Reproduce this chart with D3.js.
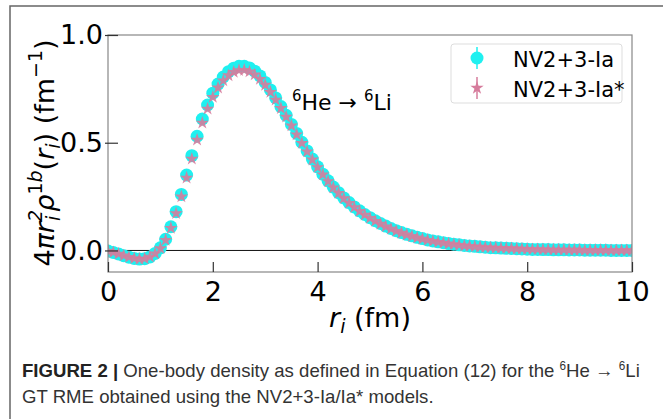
<!DOCTYPE html>
<html lang="en">
<head>
<meta charset="UTF-8">
<title>One-body density 6He to 6Li</title>
<script src="https://cdn.jsdelivr.net/npm/d3@7"></script>
<style>
    body { margin: 0; background: #fff; }
    text { font-family: "DejaVu Sans", sans-serif; }
    .caption { font-family: "Liberation Sans", sans-serif; }
</style>
</head>
<body>
<svg width="663" height="419"></svg>
<script>

// radial grid r_i (fm)
var radius = [0.0,0.1,0.2,0.3,0.4,0.5,0.6,0.7,0.8,0.9,
    1.0,1.1,1.2,1.3,1.4,1.5,1.6,1.7,1.8,1.9,
    2.0,2.1,2.2,2.3,2.4,2.5,2.6,2.7,2.8,2.9,
    3.0,3.1,3.2,3.3,3.4,3.5,3.6,3.7,3.8,3.9,
    4.0,4.1,4.2,4.3,4.4,4.5,4.6,4.7,4.8,4.9,
    5.0,5.1,5.2,5.3,5.4,5.5,5.6,5.7,5.8,5.9,
    6.0,6.1,6.2,6.3,6.4,6.5,6.6,6.7,6.8,6.9,
    7.0,7.1,7.2,7.3,7.4,7.5,7.6,7.7,7.8,7.9,
    8.0,8.1,8.2,8.3,8.4,8.5,8.6,8.7,8.8,8.9,
    9.0,9.1,9.2,9.3,9.4,9.5,9.6,9.7,9.8,9.9,
    10.0];

// NV2+3-Ia
var densIa = [-0.003,-0.009,-0.016,-0.024,-0.031,-0.037,-0.040,-0.038,-0.030,-0.014,
    0.012,0.052,0.110,0.180,0.260,0.350,0.440,0.530,0.610,0.675,
    0.730,0.772,0.805,0.830,0.846,0.855,0.855,0.847,0.832,0.810,
    0.780,0.745,0.708,0.668,0.627,0.585,0.543,0.502,0.462,0.424,
    0.388,0.354,0.323,0.294,0.268,0.244,0.222,0.202,0.184,0.167,
    0.152,0.138,0.125,0.113,0.102,0.092,0.083,0.075,0.068,0.061,
    0.055,0.049,0.044,0.040,0.036,0.032,0.029,0.026,0.023,0.021,
    0.019,0.017,0.015,0.013,0.012,0.011,0.010,0.009,0.008,0.007,
    0.006,0.005,0.005,0.004,0.004,0.003,0.003,0.003,0.002,0.002,
    0.002,0.001,0.001,0.001,0.001,0.001,0.000,0.000,0.000,0.000,
    0.000];

// NV2+3-Ia*
var densIaStar = [-0.003,-0.009,-0.016,-0.024,-0.031,-0.037,-0.040,-0.038,-0.030,-0.015,
    0.010,0.048,0.104,0.172,0.250,0.337,0.425,0.513,0.592,0.657,
    0.712,0.755,0.788,0.812,0.828,0.836,0.837,0.830,0.816,0.795,
    0.768,0.735,0.699,0.660,0.620,0.579,0.538,0.498,0.459,0.421,
    0.386,0.352,0.321,0.292,0.266,0.242,0.220,0.200,0.182,0.165,
    0.150,0.136,0.123,0.111,0.100,0.090,0.081,0.073,0.066,0.059,
    0.053,0.048,0.043,0.039,0.035,0.031,0.028,0.025,0.022,0.020,
    0.018,0.016,0.014,0.013,0.012,0.011,0.010,0.009,0.008,0.007,
    0.006,0.005,0.005,0.004,0.004,0.003,0.003,0.003,0.002,0.002,
    0.002,0.001,0.001,0.001,0.001,0.001,0.000,0.000,0.000,0.000,
    0.000];

var xTicks = [0, 2, 4, 6, 8, 10];
var yTicks = [0.0, 0.5, 1.0];
var seriesNames = ["NV2+3-Ia", "NV2+3-Ia*"];

var cyan = "#1ff0f0",
    pink = "#d67c9c";

var svg = d3.select("svg");

// outer figure frame
svg.append("path")
    .attr("d", "M10,430 L10,6 L670,6")
    .attr("fill", "none")
    .attr("stroke", "#666")
    .attr("stroke-width", 1.5);

var pLeft = 108, pRight = 632, pTop = 35, pBottom = 272;

var x = d3.scaleLinear().domain([0, 10]).range([pLeft, pRight]);
var y = d3.scaleLinear().domain([-0.1, 1.0]).range([pBottom, pTop]);

svg.append("clipPath").attr("id", "plotclip")
    .append("rect")
    .attr("x", pLeft).attr("y", pTop)
    .attr("width", pRight - pLeft).attr("height", pBottom - pTop);

// zero line
svg.append("line")
    .attr("x1", pLeft).attr("x2", pRight)
    .attr("y1", y(0)).attr("y2", y(0))
    .attr("stroke", "#111")
    .attr("stroke-width", 1);

var pts = svg.append("g").attr("clip-path", "url(#plotclip)");

pts.selectAll("circle")
    .data(radius)
    .enter().append("circle")
    .attr("cx", function(d) { return x(d); })
    .attr("cy", function(d, i) { return y(densIa[i]); })
    .attr("r", 6.5)
    .attr("fill", cyan);

var star = d3.symbol().type(d3.symbolStar).size(55);

pts.selectAll("path.star")
    .data(radius)
    .enter().append("path")
    .attr("class", "star")
    .attr("d", star)
    .attr("transform", function(d, i) { return "translate(" + x(d) + "," + y(densIaStar[i]) + ")"; })
    .attr("fill", pink)
    .attr("fill-opacity", 0.9);

// frame
svg.append("rect")
    .attr("x", pLeft).attr("y", pTop)
    .attr("width", pRight - pLeft).attr("height", pBottom - pTop)
    .attr("fill", "none")
    .attr("stroke", "#888")
    .attr("stroke-width", 1.2);

// x axis
var xAxis = svg.append("g")
    .attr("transform", "translate(0," + pBottom + ")")
    .call(d3.axisBottom(x).tickValues(xTicks).tickFormat(d3.format("d"))
        .tickSizeInner(-10).tickSizeOuter(0).tickPadding(4));
xAxis.select(".domain").remove();
xAxis.selectAll(".tick line").attr("stroke", "#333").attr("stroke-width", 1.2);
xAxis.selectAll(".tick text")
    .attr("y", 5)
    .attr("dy", "0.9em")
    .attr("fill", "#000")
    .style("font-size", "27px");

// y axis
var yAxis = svg.append("g")
    .attr("transform", "translate(" + pLeft + ",0)")
    .call(d3.axisLeft(y).tickValues(yTicks).tickFormat(d3.format(".1f"))
        .tickSizeOuter(0));
yAxis.select(".domain").remove();
yAxis.selectAll(".tick line")
    .attr("x1", -3).attr("x2", 10)
    .attr("stroke", "#333").attr("stroke-width", 1.2);
yAxis.selectAll(".tick text")
    .attr("x", -5)
    .attr("fill", "#000")
    .style("font-size", "27px");

// axis labels
var xl = svg.append("text")
    .attr("x", 370).attr("y", 327)
    .attr("text-anchor", "middle")
    .style("font-size", "27px");
xl.append("tspan").attr("font-style", "italic").text("r");
xl.append("tspan").attr("font-style", "italic").attr("font-size", "19px").attr("dy", 6).text("i");
xl.append("tspan").attr("dy", -6).text(" (fm)");

var yl = svg.append("text")
    .attr("transform", "translate(54,153) rotate(-90)")
    .attr("text-anchor", "middle")
    .style("font-size", "27px");
yl.append("tspan").text("4");
yl.append("tspan").attr("font-style", "italic").text("πr");
yl.append("tspan").attr("font-style", "italic").attr("font-size", "19px").attr("dy", -12).text("2");
yl.append("tspan").attr("font-style", "italic").attr("font-size", "19px").attr("dx", -11).attr("dy", 18).text("i");
yl.append("tspan").attr("font-style", "italic").attr("dx", 4).attr("dy", -6).text("ρ");
yl.append("tspan").attr("font-size", "19px").attr("dy", -12).text("1");
yl.append("tspan").attr("font-style", "italic").attr("font-size", "19px").text("b");
yl.append("tspan").attr("dy", 12).text("(");
yl.append("tspan").attr("font-style", "italic").text("r");
yl.append("tspan").attr("font-style", "italic").attr("font-size", "19px").attr("dy", 6).text("i");
yl.append("tspan").attr("dy", -6).text(") (fm");
yl.append("tspan").attr("font-size", "19px").attr("dy", -12).text("−1");
yl.append("tspan").attr("dy", 12).text(")");

// reaction annotation
var ann = svg.append("text")
    .attr("x", 292).attr("y", 110)
    .style("font-size", "22px");
ann.append("tspan").attr("font-size", "15px").attr("dy", -9).text("6");
ann.append("tspan").attr("dy", 9).text("He → ");
ann.append("tspan").attr("font-size", "15px").attr("dy", -9).text("6");
ann.append("tspan").attr("dy", 9).text("Li");

// legend
var lg = svg.append("g");
lg.append("rect")
    .attr("x", 451).attr("y", 44)
    .attr("width", 171).attr("height", 59)
    .attr("rx", 3)
    .attr("fill", "#fff")
    .attr("stroke", "#ddd");

var legendRows = [
    {name: seriesNames[0], color: cyan, cy: 58, star: false},
    {name: seriesNames[1], color: pink, cy: 88, star: true}
];
legendRows.forEach(function(d) {
    lg.append("line")
        .attr("x1", 477).attr("x2", 477)
        .attr("y1", d.cy - 11).attr("y2", d.cy + 11)
        .attr("stroke", d.color).attr("stroke-width", 1.5);
    if (d.star) {
        lg.append("path")
            .attr("d", star)
            .attr("transform", "translate(477," + d.cy + ")")
            .attr("fill", d.color);
    } else {
        lg.append("circle")
            .attr("cx", 477).attr("cy", d.cy)
            .attr("r", 6.5)
            .attr("fill", d.color);
    }
    lg.append("text")
        .attr("x", 513).attr("y", d.cy + 9)
        .style("font-size", "21px")
        .text(d.name);
});

// caption (narrow type, squeezed horizontally)
var capG = svg.append("g");
var cap1 = capG.append("text")
    .attr("class", "caption")
    .attr("x", 0).attr("y", 377)
    .attr("fill", "#333")
    .style("font-size", "19px");
cap1.append("tspan").attr("font-weight", "bold").attr("fill", "#222").text("FIGURE 2 | ");
cap1.append("tspan").text("One-body density as defined in Equation (12) for the ");
cap1.append("tspan").attr("font-size", "12px").attr("dy", -7).text("6");
cap1.append("tspan").attr("dy", 7).text("He → ");
cap1.append("tspan").attr("font-size", "12px").attr("dy", -7).text("6");
cap1.append("tspan").attr("dy", 7).text("Li");

capG.append("text")
    .attr("class", "caption")
    .attr("x", 0).attr("y", 403)
    .attr("fill", "#333")
    .style("font-size", "19px")
    .text("GT RME obtained using the NV2+3-Ia/Ia* models.");

var w1 = cap1.node().getComputedTextLength();
var sx = 618 / w1;
capG.attr("transform", "translate(22,0) scale(" + sx + ",1)");

</script>
</body>
</html>
